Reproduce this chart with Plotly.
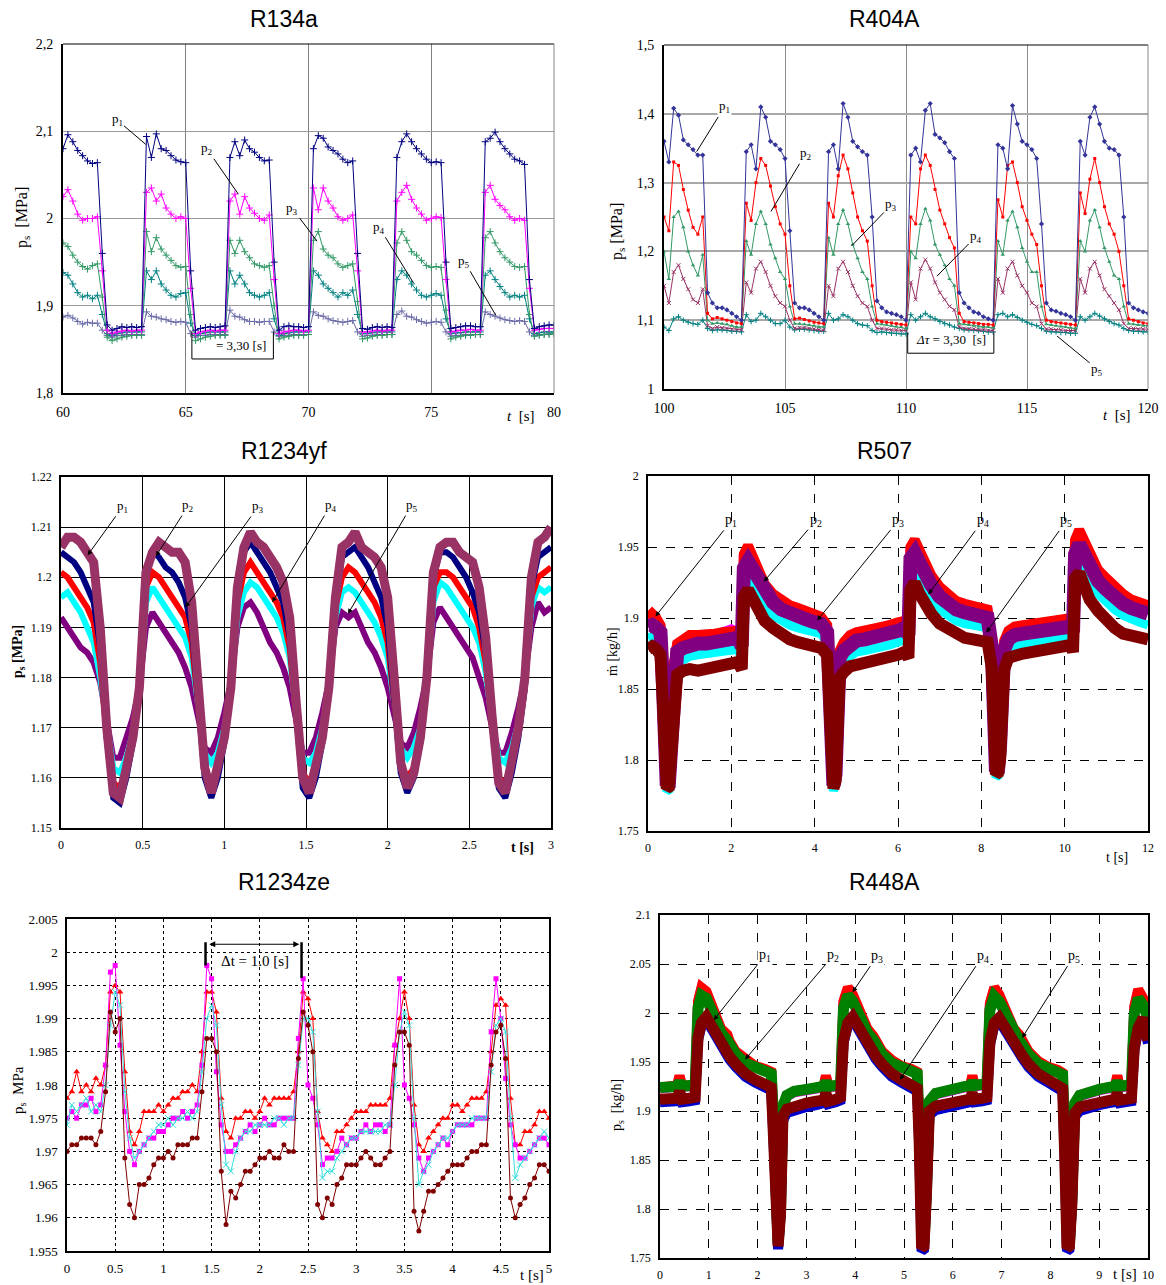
import plotly.graph_objects as go

W, H = 1166, 1285
SERIF = "Liberation Serif, Times New Roman, serif"
SANS = "Liberation Sans, Arial, sans-serif"

# ====================== DATA ======================
# ---- R134a (t = 60 ... 80 s, sampled every 0.2 s) ----
r134a_t_start, r134a_t_step, r134a_n = 60.0, 0.2, 101
r134a_t = [round(r134a_t_start + r134a_t_step * k, 2) for k in range(r134a_n)]
r134a_p1 = [2.080, 2.096, 2.088, 2.078, 2.072, 2.066, 2.063, 2.064, 1.960, 1.878,
            1.872, 1.874, 1.876, 1.875, 1.876, 1.875, 1.876, 2.094, 2.070, 2.097,
            2.080, 2.078, 2.072, 2.067, 2.065, 2.064, 1.940, 1.872, 1.874, 1.875,
            1.876, 1.875, 1.876, 1.877, 2.070, 2.088, 2.072, 2.090, 2.080, 2.076,
            2.070, 2.066, 2.067, 1.950, 1.872, 1.876, 1.877, 1.876, 1.876, 1.875,
            1.876, 2.080, 2.095, 2.092, 2.082, 2.078, 2.074, 2.068, 2.064, 2.066,
            1.960, 1.874, 1.873, 1.875, 1.876, 1.875, 1.876, 1.875, 2.070, 2.088,
            2.097, 2.088, 2.080, 2.074, 2.068, 2.064, 2.065, 2.064, 1.950, 1.874,
            1.875, 1.876, 1.877, 1.877, 1.876, 1.876, 2.088, 2.092, 2.099, 2.088,
            2.080, 2.074, 2.068, 2.066, 2.062, 1.930, 1.874, 1.876, 1.877, 1.878,
            1.878]
r134a_p2 = [2.025, 2.033, 2.020, 2.005, 1.998, 2.000, 2.000, 2.002, 1.940, 1.872,
            1.868, 1.870, 1.871, 1.872, 1.871, 1.872, 1.872, 2.030, 2.035, 2.020,
            2.028, 2.012, 2.005, 2.000, 2.002, 2.000, 1.920, 1.868, 1.870, 1.871,
            1.872, 1.871, 1.872, 1.872, 2.020, 2.028, 2.005, 2.025, 2.012, 2.006,
            2.000, 1.998, 2.004, 1.930, 1.868, 1.870, 1.871, 1.872, 1.872, 1.871,
            1.872, 2.035, 2.010, 2.035, 2.020, 2.012, 2.002, 1.998, 2.000, 2.004,
            1.940, 1.870, 1.870, 1.871, 1.872, 1.871, 1.872, 1.872, 2.020, 2.030,
            2.038, 2.022, 2.012, 2.005, 1.998, 2.000, 2.002, 2.001, 1.930, 1.870,
            1.871, 1.872, 1.872, 1.873, 1.872, 1.872, 2.030, 2.038, 2.022, 2.015,
            2.010, 2.002, 1.998, 2.000, 1.998, 1.920, 1.872, 1.873, 1.874, 1.874,
            1.874]
r134a_p3 = [1.972, 1.968, 1.958, 1.950, 1.945, 1.942, 1.946, 1.948, 1.910, 1.864,
            1.860, 1.862, 1.864, 1.865, 1.866, 1.866, 1.866, 1.985, 1.962, 1.978,
            1.965, 1.958, 1.952, 1.946, 1.944, 1.945, 1.890, 1.860, 1.862, 1.864,
            1.865, 1.866, 1.866, 1.866, 1.975, 1.960, 1.975, 1.962, 1.955, 1.948,
            1.946, 1.944, 1.946, 1.900, 1.862, 1.864, 1.865, 1.866, 1.866, 1.866,
            1.867, 1.975, 1.985, 1.965, 1.958, 1.955, 1.948, 1.944, 1.946, 1.948,
            1.905, 1.862, 1.863, 1.865, 1.866, 1.866, 1.867, 1.867, 1.972, 1.985,
            1.975, 1.962, 1.958, 1.952, 1.946, 1.944, 1.945, 1.944, 1.895, 1.862,
            1.864, 1.865, 1.866, 1.866, 1.867, 1.867, 1.978, 1.985, 1.972, 1.962,
            1.955, 1.950, 1.945, 1.944, 1.945, 1.890, 1.865, 1.866, 1.867, 1.867,
            1.868]
r134a_p4 = [1.938, 1.935, 1.925, 1.915, 1.910, 1.912, 1.908, 1.912, 1.890, 1.868,
            1.866, 1.868, 1.869, 1.870, 1.870, 1.870, 1.870, 1.940, 1.930, 1.940,
            1.925, 1.918, 1.912, 1.910, 1.914, 1.915, 1.880, 1.866, 1.868, 1.869,
            1.870, 1.870, 1.870, 1.870, 1.940, 1.925, 1.935, 1.925, 1.915, 1.912,
            1.910, 1.912, 1.915, 1.885, 1.866, 1.868, 1.869, 1.870, 1.870, 1.870,
            1.870, 1.940, 1.935, 1.925, 1.920, 1.915, 1.910, 1.915, 1.912, 1.918,
            1.890, 1.868, 1.868, 1.869, 1.870, 1.870, 1.870, 1.870, 1.930, 1.940,
            1.935, 1.925, 1.918, 1.912, 1.910, 1.912, 1.914, 1.912, 1.885, 1.868,
            1.869, 1.869, 1.870, 1.870, 1.870, 1.870, 1.935, 1.940, 1.930, 1.922,
            1.915, 1.910, 1.912, 1.910, 1.912, 1.885, 1.868, 1.869, 1.870, 1.870,
            1.870]
r134a_p5 = [1.887, 1.889, 1.886, 1.882, 1.879, 1.881, 1.880, 1.880, 1.872, 1.866,
            1.864, 1.866, 1.866, 1.867, 1.867, 1.867, 1.867, 1.893, 1.888, 1.887,
            1.885, 1.884, 1.882, 1.881, 1.882, 1.881, 1.868, 1.864, 1.866, 1.866,
            1.867, 1.867, 1.867, 1.867, 1.895, 1.888, 1.887, 1.884, 1.882, 1.882,
            1.881, 1.882, 1.882, 1.870, 1.865, 1.866, 1.866, 1.867, 1.867, 1.867,
            1.867, 1.893, 1.889, 1.888, 1.885, 1.883, 1.882, 1.881, 1.882, 1.883,
            1.870, 1.865, 1.866, 1.866, 1.867, 1.867, 1.867, 1.867, 1.890, 1.894,
            1.888, 1.887, 1.884, 1.882, 1.880, 1.881, 1.882, 1.881, 1.870, 1.865,
            1.866, 1.866, 1.867, 1.867, 1.867, 1.867, 1.893, 1.890, 1.888, 1.886,
            1.884, 1.883, 1.882, 1.883, 1.882, 1.870, 1.866, 1.867, 1.867, 1.868,
            1.868]

# ---- R404A (t = 100 ... 120 s, every 0.2 s) ----
r404a_t_start, r404a_t_step, r404a_n = 100.0, 0.2, 101
r404a_t = [round(r404a_t_start + r404a_t_step * k, 2) for k in range(r404a_n)]
r404a_p1 = [1.360, 1.330, 1.408, 1.398, 1.362, 1.355, 1.348, 1.340, 1.340, 1.140,
            1.125, 1.118, 1.118, 1.115, 1.110, 1.105, 1.100, 1.345, 1.355, 1.320,
            1.410, 1.395, 1.360, 1.355, 1.348, 1.335, 1.230, 1.125, 1.118, 1.118,
            1.115, 1.110, 1.105, 1.100, 1.345, 1.355, 1.320, 1.415, 1.395, 1.360,
            1.352, 1.345, 1.340, 1.250, 1.128, 1.118, 1.112, 1.110, 1.108, 1.105,
            1.100, 1.340, 1.350, 1.330, 1.405, 1.415, 1.370, 1.365, 1.358, 1.345,
            1.335, 1.140, 1.125, 1.118, 1.112, 1.110, 1.105, 1.102, 1.100, 1.355,
            1.350, 1.320, 1.412, 1.385, 1.360, 1.355, 1.348, 1.335, 1.240, 1.125,
            1.115, 1.113, 1.110, 1.108, 1.105, 1.100, 1.360, 1.340, 1.395, 1.410,
            1.385, 1.360, 1.350, 1.348, 1.340, 1.250, 1.125, 1.118, 1.115, 1.112,
            1.110]
r404a_p2 = [1.250, 1.230, 1.330, 1.325, 1.290, 1.260, 1.235, 1.225, 1.250, 1.110,
            1.102, 1.104, 1.102, 1.100, 1.098, 1.096, 1.095, 1.270, 1.245, 1.300,
            1.335, 1.325, 1.295, 1.265, 1.240, 1.225, 1.150, 1.102, 1.103, 1.101,
            1.099, 1.097, 1.096, 1.095, 1.270, 1.250, 1.310, 1.340, 1.320, 1.285,
            1.250, 1.230, 1.215, 1.150, 1.100, 1.098, 1.097, 1.096, 1.095, 1.094,
            1.093, 1.250, 1.240, 1.320, 1.340, 1.325, 1.290, 1.260, 1.240, 1.220,
            1.205, 1.110, 1.098, 1.097, 1.096, 1.095, 1.094, 1.094, 1.093, 1.275,
            1.250, 1.325, 1.330, 1.300, 1.265, 1.245, 1.225, 1.210, 1.150, 1.100,
            1.098, 1.097, 1.096, 1.095, 1.094, 1.093, 1.285, 1.255, 1.305, 1.335,
            1.300, 1.265, 1.240, 1.225, 1.200, 1.150, 1.102, 1.100, 1.098, 1.096,
            1.095]
r404a_p3 = [1.200, 1.160, 1.250, 1.258, 1.235, 1.200, 1.180, 1.165, 1.195, 1.100,
            1.095, 1.096, 1.095, 1.094, 1.092, 1.090, 1.090, 1.215, 1.195, 1.240,
            1.258, 1.240, 1.210, 1.190, 1.170, 1.160, 1.120, 1.095, 1.095, 1.094,
            1.093, 1.092, 1.090, 1.090, 1.220, 1.195, 1.240, 1.260, 1.240, 1.210,
            1.190, 1.170, 1.160, 1.120, 1.095, 1.094, 1.093, 1.092, 1.091, 1.090,
            1.088, 1.200, 1.190, 1.240, 1.262, 1.245, 1.210, 1.195, 1.180, 1.160,
            1.150, 1.095, 1.094, 1.093, 1.092, 1.091, 1.090, 1.090, 1.089, 1.215,
            1.195, 1.245, 1.258, 1.235, 1.205, 1.185, 1.170, 1.170, 1.120, 1.094,
            1.093, 1.092, 1.091, 1.090, 1.089, 1.088, 1.215, 1.200, 1.245, 1.260,
            1.235, 1.205, 1.185, 1.165, 1.160, 1.120, 1.095, 1.094, 1.093, 1.092,
            1.092]
r404a_p4 = [1.150, 1.125, 1.170, 1.180, 1.160, 1.145, 1.130, 1.125, 1.145, 1.092,
            1.088, 1.090, 1.089, 1.088, 1.087, 1.086, 1.086, 1.155, 1.140, 1.175,
            1.185, 1.170, 1.150, 1.135, 1.125, 1.120, 1.100, 1.088, 1.089, 1.089,
            1.088, 1.087, 1.086, 1.085, 1.150, 1.135, 1.175, 1.185, 1.170, 1.150,
            1.135, 1.125, 1.120, 1.100, 1.088, 1.088, 1.087, 1.086, 1.086, 1.085,
            1.085, 1.155, 1.130, 1.175, 1.188, 1.175, 1.155, 1.140, 1.130, 1.120,
            1.115, 1.090, 1.088, 1.087, 1.087, 1.086, 1.086, 1.085, 1.085, 1.160,
            1.140, 1.175, 1.185, 1.165, 1.150, 1.140, 1.125, 1.120, 1.095, 1.087,
            1.087, 1.086, 1.086, 1.085, 1.085, 1.085, 1.160, 1.140, 1.175, 1.185,
            1.165, 1.145, 1.135, 1.125, 1.115, 1.095, 1.088, 1.088, 1.087, 1.087,
            1.087]
r404a_p5 = [1.090, 1.085, 1.102, 1.105, 1.100, 1.097, 1.095, 1.094, 1.100, 1.088,
            1.085, 1.086, 1.086, 1.085, 1.084, 1.084, 1.083, 1.108, 1.098, 1.100,
            1.110, 1.105, 1.100, 1.095, 1.095, 1.100, 1.090, 1.086, 1.087, 1.087,
            1.086, 1.085, 1.084, 1.084, 1.110, 1.100, 1.102, 1.108, 1.105, 1.100,
            1.095, 1.093, 1.092, 1.085, 1.082, 1.083, 1.082, 1.081, 1.081, 1.080,
            1.080, 1.108, 1.100, 1.105, 1.110, 1.105, 1.102, 1.098, 1.095, 1.093,
            1.090, 1.088, 1.086, 1.086, 1.085, 1.085, 1.084, 1.083, 1.083, 1.108,
            1.110, 1.105, 1.108, 1.104, 1.100, 1.097, 1.094, 1.092, 1.088, 1.084,
            1.083, 1.083, 1.082, 1.082, 1.081, 1.081, 1.105, 1.100, 1.105, 1.110,
            1.106, 1.102, 1.098, 1.095, 1.093, 1.088, 1.085, 1.084, 1.084, 1.083,
            1.083]

# ---- R1234yf (t = 0 ... 3 s, every 0.04 s) ----
r1234yf_t_start, r1234yf_t_step, r1234yf_n = 0.0, 0.04, 76
r1234yf_t = [round(r1234yf_t_start + r1234yf_t_step * k, 3) for k in range(r1234yf_n)]
r1234yf_p1 = [1.205, 1.204, 1.203, 1.201, 1.198, 1.195, 1.186, 1.168, 1.156, 1.155,
              1.160, 1.167, 1.177, 1.200, 1.205, 1.204, 1.202, 1.201, 1.199, 1.196,
              1.190, 1.175, 1.160, 1.156, 1.160, 1.167, 1.177, 1.197, 1.205, 1.207,
              1.205, 1.203, 1.201, 1.198, 1.195, 1.188, 1.172, 1.158, 1.156, 1.160,
              1.167, 1.177, 1.195, 1.204, 1.205, 1.206, 1.204, 1.202, 1.199, 1.196,
              1.190, 1.176, 1.161, 1.157, 1.160, 1.167, 1.179, 1.200, 1.205, 1.205,
              1.204, 1.202, 1.200, 1.197, 1.193, 1.185, 1.170, 1.158, 1.156, 1.161,
              1.168, 1.178, 1.198, 1.204, 1.205, 1.206]
r1234yf_p2 = [1.201, 1.200, 1.198, 1.196, 1.194, 1.191, 1.183, 1.168, 1.159, 1.158,
              1.162, 1.168, 1.177, 1.198, 1.201, 1.200, 1.198, 1.196, 1.194, 1.192,
              1.187, 1.174, 1.162, 1.159, 1.162, 1.168, 1.177, 1.195, 1.201, 1.203,
              1.201, 1.199, 1.197, 1.195, 1.192, 1.186, 1.172, 1.161, 1.159, 1.162,
              1.168, 1.177, 1.194, 1.200, 1.202, 1.201, 1.199, 1.197, 1.195, 1.192,
              1.187, 1.175, 1.163, 1.160, 1.162, 1.168, 1.179, 1.198, 1.201, 1.201,
              1.200, 1.198, 1.196, 1.194, 1.190, 1.183, 1.170, 1.160, 1.159, 1.163,
              1.169, 1.178, 1.196, 1.200, 1.201, 1.202]
r1234yf_p3 = [1.196, 1.197, 1.195, 1.193, 1.190, 1.187, 1.180, 1.170, 1.162, 1.161,
              1.164, 1.169, 1.177, 1.195, 1.198, 1.196, 1.194, 1.192, 1.190, 1.188,
              1.184, 1.174, 1.165, 1.163, 1.165, 1.170, 1.178, 1.192, 1.197, 1.199,
              1.198, 1.196, 1.194, 1.192, 1.189, 1.184, 1.173, 1.164, 1.163, 1.165,
              1.170, 1.178, 1.192, 1.197, 1.198, 1.197, 1.195, 1.193, 1.191, 1.188,
              1.184, 1.175, 1.166, 1.164, 1.166, 1.170, 1.179, 1.195, 1.199, 1.198,
              1.196, 1.194, 1.192, 1.190, 1.187, 1.181, 1.171, 1.164, 1.163, 1.166,
              1.171, 1.179, 1.194, 1.198, 1.197, 1.198]
r1234yf_p4 = [1.192, 1.190, 1.188, 1.186, 1.185, 1.183, 1.179, 1.172, 1.164, 1.164,
              1.168, 1.172, 1.178, 1.190, 1.193, 1.191, 1.189, 1.187, 1.185, 1.182,
              1.178, 1.172, 1.166, 1.165, 1.168, 1.173, 1.179, 1.190, 1.194, 1.195,
              1.193, 1.190, 1.187, 1.185, 1.182, 1.178, 1.171, 1.165, 1.165, 1.168,
              1.173, 1.179, 1.190, 1.193, 1.192, 1.193, 1.190, 1.187, 1.185, 1.182,
              1.178, 1.172, 1.167, 1.166, 1.169, 1.174, 1.180, 1.191, 1.194, 1.192,
              1.190, 1.188, 1.186, 1.184, 1.180, 1.176, 1.170, 1.165, 1.165, 1.169,
              1.174, 1.180, 1.190, 1.195, 1.193, 1.194]
r1234yf_p5 = [1.206, 1.208, 1.208, 1.207, 1.205, 1.203, 1.190, 1.170, 1.157, 1.156,
              1.162, 1.168, 1.178, 1.201, 1.205, 1.207, 1.206, 1.205, 1.205, 1.203,
              1.195, 1.178, 1.162, 1.157, 1.162, 1.168, 1.178, 1.198, 1.206, 1.209,
              1.207, 1.206, 1.204, 1.202, 1.199, 1.192, 1.175, 1.160, 1.157, 1.162,
              1.168, 1.178, 1.196, 1.206, 1.207, 1.209, 1.206, 1.205, 1.204, 1.202,
              1.196, 1.180, 1.163, 1.158, 1.161, 1.168, 1.180, 1.201, 1.206, 1.207,
              1.207, 1.205, 1.204, 1.203, 1.198, 1.188, 1.172, 1.159, 1.157, 1.163,
              1.170, 1.180, 1.200, 1.207, 1.208, 1.210]

# ---- R507 (t = 0 ... 12 s) ----
r507_t = [0.0, 0.1, 0.2, 0.3, 0.35, 0.4, 0.45, 0.5, 0.55, 0.6,
          0.7, 0.85, 1.0, 1.2, 1.4, 1.6, 1.8, 2.0, 2.15, 2.25,
          2.3, 2.4, 2.5, 2.65, 2.8, 3.0, 3.2, 3.4, 3.6, 3.8,
          4.0, 4.15, 4.3, 4.35, 4.4, 4.45, 4.5, 4.55, 4.6, 4.7,
          4.85, 5.0, 5.2, 5.4, 5.6, 5.8, 6.0, 6.15, 6.25, 6.3,
          6.4, 6.5, 6.65, 6.8, 7.0, 7.2, 7.4, 7.6, 7.8, 8.0,
          8.15, 8.25, 8.3, 8.35, 8.4, 8.45, 8.5, 8.55, 8.65, 8.8,
          9.0, 9.2, 9.4, 9.6, 9.8, 10.0, 10.15, 10.2, 10.25, 10.35,
          10.45, 10.6, 10.8, 11.0, 11.2, 11.4, 11.6, 11.8, 12.0]
r507_p1 = [1.900, 1.903, 1.900, 1.895, 1.862, 1.802, 1.784, 1.785, 1.818, 1.864,
           1.882, 1.886, 1.888, 1.888, 1.888, 1.889, 1.890, 1.891, 1.891, 1.884,
           1.945, 1.951, 1.943, 1.932, 1.924, 1.917, 1.912, 1.909, 1.907, 1.905,
           1.903, 1.901, 1.895, 1.853, 1.792, 1.784, 1.792, 1.843, 1.877, 1.883,
           1.888, 1.890, 1.891, 1.892, 1.894, 1.895, 1.897, 1.898, 1.893, 1.950,
           1.955, 1.948, 1.938, 1.930, 1.922, 1.916, 1.912, 1.910, 1.908, 1.907,
           1.906, 1.884, 1.833, 1.794, 1.795, 1.812, 1.853, 1.884, 1.891, 1.894,
           1.895, 1.896, 1.897, 1.898, 1.899, 1.899, 1.900, 1.895, 1.955, 1.962,
           1.955, 1.944, 1.934, 1.928, 1.922, 1.917, 1.913, 1.911, 1.909]
r507_p2 = [1.899, 1.902, 1.899, 1.894, 1.861, 1.801, 1.783, 1.784, 1.817, 1.863,
           1.881, 1.885, 1.887, 1.887, 1.887, 1.888, 1.890, 1.892, 1.890, 1.883,
           1.944, 1.950, 1.942, 1.931, 1.923, 1.916, 1.911, 1.908, 1.906, 1.904,
           1.902, 1.900, 1.894, 1.852, 1.791, 1.783, 1.791, 1.842, 1.876, 1.882,
           1.887, 1.889, 1.890, 1.891, 1.893, 1.895, 1.896, 1.897, 1.892, 1.949,
           1.954, 1.947, 1.937, 1.929, 1.921, 1.915, 1.911, 1.909, 1.907, 1.906,
           1.905, 1.883, 1.832, 1.793, 1.794, 1.811, 1.852, 1.883, 1.890, 1.893,
           1.894, 1.895, 1.896, 1.897, 1.898, 1.898, 1.899, 1.894, 1.954, 1.961,
           1.954, 1.943, 1.933, 1.927, 1.921, 1.916, 1.912, 1.910, 1.908]
r507_p3 = [1.886, 1.887, 1.885, 1.882, 1.852, 1.795, 1.778, 1.779, 1.810, 1.852,
           1.868, 1.871, 1.873, 1.874, 1.875, 1.876, 1.877, 1.878, 1.878, 1.872,
           1.925, 1.928, 1.924, 1.915, 1.908, 1.902, 1.898, 1.895, 1.893, 1.891,
           1.890, 1.889, 1.883, 1.845, 1.786, 1.778, 1.786, 1.835, 1.865, 1.870,
           1.874, 1.876, 1.877, 1.878, 1.880, 1.881, 1.883, 1.885, 1.880, 1.930,
           1.934, 1.928, 1.920, 1.913, 1.906, 1.902, 1.898, 1.896, 1.895, 1.894,
           1.893, 1.873, 1.825, 1.788, 1.789, 1.805, 1.845, 1.870, 1.877, 1.880,
           1.881, 1.882, 1.883, 1.884, 1.885, 1.886, 1.887, 1.882, 1.935, 1.940,
           1.934, 1.925, 1.917, 1.911, 1.906, 1.902, 1.899, 1.897, 1.895]
r507_p4 = [1.894, 1.895, 1.893, 1.890, 1.860, 1.800, 1.782, 1.783, 1.815, 1.860,
           1.876, 1.879, 1.881, 1.882, 1.882, 1.883, 1.885, 1.886, 1.886, 1.880,
           1.935, 1.940, 1.935, 1.925, 1.918, 1.911, 1.906, 1.903, 1.901, 1.899,
           1.897, 1.896, 1.890, 1.850, 1.790, 1.782, 1.790, 1.840, 1.872, 1.877,
           1.882, 1.884, 1.885, 1.886, 1.888, 1.889, 1.891, 1.893, 1.888, 1.942,
           1.946, 1.940, 1.930, 1.923, 1.915, 1.910, 1.906, 1.904, 1.902, 1.901,
           1.900, 1.880, 1.830, 1.792, 1.793, 1.810, 1.850, 1.878, 1.885, 1.888,
           1.889, 1.890, 1.891, 1.891, 1.892, 1.893, 1.894, 1.890, 1.945, 1.952,
           1.945, 1.935, 1.926, 1.920, 1.914, 1.910, 1.907, 1.905, 1.903]
r507_p5 = [1.878, 1.880, 1.878, 1.874, 1.845, 1.790, 1.780, 1.781, 1.805, 1.845,
           1.860, 1.863, 1.864, 1.863, 1.864, 1.866, 1.868, 1.869, 1.869, 1.864,
           1.915, 1.920, 1.915, 1.906, 1.898, 1.893, 1.888, 1.885, 1.883, 1.881,
           1.880, 1.879, 1.874, 1.838, 1.785, 1.780, 1.785, 1.830, 1.858, 1.862,
           1.866, 1.867, 1.868, 1.869, 1.871, 1.872, 1.874, 1.876, 1.872, 1.920,
           1.925, 1.918, 1.910, 1.903, 1.896, 1.892, 1.888, 1.886, 1.885, 1.884,
           1.883, 1.865, 1.820, 1.790, 1.791, 1.800, 1.838, 1.864, 1.872, 1.874,
           1.875, 1.876, 1.877, 1.878, 1.879, 1.880, 1.881, 1.876, 1.928, 1.932,
           1.924, 1.913, 1.905, 1.898, 1.893, 1.889, 1.887, 1.886, 1.885]

# ---- R1234ze (t = 0 ... 5 s, every 0.05 s) ----
r1234ze_t_start, r1234ze_t_step, r1234ze_n = 0.0, 0.05, 101
r1234ze_t = [round(r1234ze_t_start + r1234ze_t_step * k, 3) for k in range(r1234ze_n)]
r1234ze_p1 = [1.978, 1.979, 1.982, 1.979, 1.980, 1.979, 1.981, 1.980, 1.983, 1.994,
              1.995, 1.994, 1.982, 1.973, 1.971, 1.973, 1.976, 1.976, 1.976, 1.977,
              1.976, 1.977, 1.978, 1.978, 1.979, 1.979, 1.980, 1.979, 1.985, 1.994,
              1.994, 1.991, 1.978, 1.973, 1.972, 1.975, 1.975, 1.976, 1.976, 1.975,
              1.976, 1.978, 1.977, 1.978, 1.978, 1.978, 1.978, 1.979, 1.985, 1.994,
              1.993, 1.990, 1.976, 1.972, 1.971, 1.970, 1.973, 1.973, 1.974, 1.975,
              1.976, 1.976, 1.976, 1.977, 1.977, 1.977, 1.977, 1.978, 1.986, 1.990,
              1.994, 1.990, 1.977, 1.971, 1.970, 1.972, 1.973, 1.974, 1.975, 1.975,
              1.977, 1.977, 1.976, 1.977, 1.978, 1.978, 1.978, 1.979, 1.985, 1.992,
              1.993, 1.992, 1.978, 1.971, 1.971, 1.973, 1.973, 1.974, 1.976, 1.976,
              1.975]
r1234ze_p2 = [1.975, 1.976, 1.975, 1.977, 1.977, 1.978, 1.976, 1.977, 1.983, 1.997,
              1.998, 1.986, 1.976, 1.970, 1.968, 1.970, 1.971, 1.972, 1.972, 1.973,
              1.973, 1.974, 1.975, 1.975, 1.976, 1.975, 1.976, 1.977, 1.983, 1.998,
              1.996, 1.982, 1.974, 1.970, 1.970, 1.971, 1.972, 1.973, 1.974, 1.973,
              1.974, 1.975, 1.974, 1.974, 1.975, 1.975, 1.975, 1.975, 1.987, 1.996,
              1.980, 1.978, 1.974, 1.968, 1.969, 1.969, 1.970, 1.972, 1.971, 1.972,
              1.972, 1.973, 1.974, 1.973, 1.974, 1.974, 1.973, 1.974, 1.986, 1.996,
              1.980, 1.978, 1.974, 1.969, 1.967, 1.969, 1.970, 1.971, 1.972, 1.971,
              1.973, 1.974, 1.974, 1.974, 1.974, 1.975, 1.975, 1.975, 1.988, 1.996,
              1.990, 1.981, 1.974, 1.971, 1.969, 1.969, 1.970, 1.971, 1.972, 1.972,
              1.971]
r1234ze_p3 = [1.974, 1.977, 1.976, 1.977, 1.978, 1.976, 1.977, 1.976, 1.980, 1.989,
              1.994, 1.992, 1.979, 1.972, 1.969, 1.970, 1.971, 1.972, 1.973, 1.974,
              1.974, 1.975, 1.974, 1.975, 1.975, 1.976, 1.975, 1.976, 1.982, 1.990,
              1.992, 1.989, 1.977, 1.968, 1.967, 1.970, 1.972, 1.973, 1.973, 1.974,
              1.974, 1.974, 1.974, 1.975, 1.975, 1.974, 1.975, 1.975, 1.983, 1.990,
              1.990, 1.988, 1.976, 1.966, 1.967, 1.967, 1.969, 1.970, 1.971, 1.972,
              1.972, 1.973, 1.973, 1.973, 1.973, 1.973, 1.974, 1.974, 1.980, 1.988,
              1.991, 1.989, 1.975, 1.965, 1.967, 1.968, 1.970, 1.971, 1.972, 1.972,
              1.973, 1.974, 1.974, 1.974, 1.975, 1.975, 1.975, 1.975, 1.982, 1.989,
              1.990, 1.988, 1.975, 1.966, 1.968, 1.969, 1.970, 1.971, 1.972, 1.973,
              1.972]
r1234ze_p4 = [1.970, 1.971, 1.971, 1.972, 1.972, 1.972, 1.971, 1.973, 1.979, 1.991,
              1.988, 1.990, 1.969, 1.962, 1.960, 1.965, 1.965, 1.966, 1.968, 1.969,
              1.969, 1.970, 1.969, 1.971, 1.971, 1.971, 1.972, 1.972, 1.979, 1.987,
              1.987, 1.985, 1.967, 1.959, 1.964, 1.963, 1.965, 1.967, 1.967, 1.968,
              1.969, 1.969, 1.970, 1.969, 1.969, 1.971, 1.970, 1.970, 1.984, 1.991,
              1.989, 1.985, 1.962, 1.960, 1.963, 1.962, 1.965, 1.966, 1.968, 1.968,
              1.968, 1.969, 1.970, 1.969, 1.968, 1.968, 1.969, 1.970, 1.983, 1.988,
              1.988, 1.986, 1.961, 1.958, 1.961, 1.964, 1.964, 1.965, 1.966, 1.967,
              1.968, 1.968, 1.968, 1.969, 1.970, 1.970, 1.971, 1.971, 1.983, 1.988,
              1.989, 1.984, 1.963, 1.960, 1.962, 1.963, 1.965, 1.966, 1.968, 1.968,
              1.967]

# ---- R448A (t = 0 ... 10 s) ----
r448a_t = [0.0, 0.2, 0.35, 0.4, 0.45, 0.6, 0.72, 0.78, 0.85, 0.95,
           1.1, 1.25, 1.38, 1.42, 1.55, 1.75, 1.95, 2.15, 2.28, 2.32,
           2.37, 2.42, 2.47, 2.52, 2.6, 2.75, 3.0, 3.2, 3.35, 3.4,
           3.45, 3.6, 3.7, 3.76, 3.85, 3.95, 4.1, 4.25, 4.38, 4.42,
           4.55, 4.75, 4.95, 5.15, 5.27, 5.31, 5.36, 5.41, 5.46, 5.52,
           5.65, 5.85, 6.05, 6.25, 6.35, 6.4, 6.45, 6.6, 6.7, 6.76,
           6.85, 6.95, 7.1, 7.25, 7.36, 7.42, 7.55, 7.75, 7.95, 8.15,
           8.25, 8.29, 8.34, 8.39, 8.44, 8.5, 8.6, 8.8, 9.0, 9.2,
           9.32, 9.37, 9.42, 9.55, 9.66, 9.72, 9.8, 9.9, 10.0]
r448a_p1 = [1.909, 1.909, 1.910, 1.917, 1.909, 1.910, 1.911, 1.972, 1.987, 1.993,
            1.979, 1.965, 1.957, 1.953, 1.945, 1.935, 1.929, 1.925, 1.921, 1.877,
            1.762, 1.759, 1.792, 1.890, 1.898, 1.901, 1.904, 1.906, 1.908, 1.915,
            1.907, 1.909, 1.911, 1.969, 1.987, 1.993, 1.979, 1.965, 1.957, 1.953,
            1.945, 1.935, 1.929, 1.925, 1.920, 1.867, 1.757, 1.759, 1.812, 1.896,
            1.901, 1.904, 1.906, 1.908, 1.909, 1.915, 1.909, 1.910, 1.911, 1.967,
            1.987, 1.992, 1.979, 1.965, 1.957, 1.954, 1.945, 1.935, 1.929, 1.924,
            1.920, 1.857, 1.757, 1.759, 1.802, 1.894, 1.900, 1.904, 1.906, 1.908,
            1.909, 1.915, 1.908, 1.909, 1.910, 1.962, 1.982, 1.992, 1.969]
r448a_p2 = [1.924, 1.925, 1.926, 1.936, 1.926, 1.926, 1.926, 2.012, 2.026, 2.022,
            2.000, 1.984, 1.978, 1.972, 1.961, 1.952, 1.946, 1.943, 1.940, 1.900,
            1.770, 1.765, 1.800, 1.905, 1.916, 1.920, 1.922, 1.924, 1.925, 1.936,
            1.925, 1.926, 1.927, 2.012, 2.026, 2.019, 2.000, 1.984, 1.976, 1.972,
            1.961, 1.952, 1.946, 1.943, 1.940, 1.890, 1.765, 1.765, 1.820, 1.910,
            1.918, 1.921, 1.923, 1.925, 1.925, 1.936, 1.926, 1.927, 1.928, 2.010,
            2.026, 2.019, 2.000, 1.984, 1.978, 1.972, 1.961, 1.951, 1.945, 1.942,
            1.939, 1.880, 1.765, 1.765, 1.810, 1.908, 1.916, 1.920, 1.922, 1.924,
            1.925, 1.936, 1.925, 1.926, 1.927, 2.007, 2.024, 2.015, 1.999]
r448a_p3 = [1.923, 1.924, 1.925, 1.935, 1.925, 1.925, 1.925, 2.011, 2.025, 2.021,
            1.999, 1.983, 1.977, 1.971, 1.960, 1.951, 1.945, 1.942, 1.939, 1.898,
            1.769, 1.764, 1.799, 1.904, 1.915, 1.919, 1.921, 1.923, 1.924, 1.935,
            1.924, 1.925, 1.926, 2.011, 2.025, 2.018, 1.999, 1.983, 1.975, 1.971,
            1.960, 1.951, 1.945, 1.942, 1.939, 1.889, 1.764, 1.764, 1.819, 1.909,
            1.917, 1.920, 1.922, 1.924, 1.924, 1.935, 1.925, 1.926, 1.927, 2.009,
            2.025, 2.018, 1.999, 1.983, 1.977, 1.971, 1.960, 1.950, 1.944, 1.941,
            1.938, 1.879, 1.764, 1.764, 1.809, 1.907, 1.915, 1.919, 1.921, 1.923,
            1.924, 1.935, 1.924, 1.925, 1.926, 2.006, 2.023, 2.014, 1.998]
r448a_p4 = [1.924, 1.925, 1.925, 1.930, 1.925, 1.926, 1.926, 2.005, 2.018, 2.015,
            1.995, 1.980, 1.972, 1.968, 1.958, 1.949, 1.944, 1.941, 1.938, 1.900,
            1.770, 1.765, 1.800, 1.905, 1.916, 1.920, 1.922, 1.924, 1.925, 1.930,
            1.925, 1.926, 1.927, 2.005, 2.018, 2.012, 1.995, 1.980, 1.972, 1.968,
            1.958, 1.949, 1.944, 1.941, 1.938, 1.890, 1.765, 1.765, 1.820, 1.910,
            1.918, 1.921, 1.923, 1.925, 1.925, 1.930, 1.926, 1.927, 1.928, 2.003,
            2.017, 2.012, 1.995, 1.980, 1.972, 1.968, 1.958, 1.948, 1.943, 1.940,
            1.937, 1.880, 1.765, 1.765, 1.810, 1.908, 1.916, 1.920, 1.922, 1.924,
            1.925, 1.930, 1.925, 1.926, 1.927, 2.000, 2.015, 2.008, 1.995]
r448a_p5 = [1.912, 1.912, 1.913, 1.920, 1.912, 1.913, 1.914, 1.975, 1.990, 1.996,
            1.982, 1.968, 1.960, 1.956, 1.948, 1.938, 1.932, 1.928, 1.924, 1.880,
            1.765, 1.762, 1.795, 1.895, 1.902, 1.905, 1.908, 1.910, 1.911, 1.918,
            1.910, 1.912, 1.914, 1.972, 1.990, 1.996, 1.982, 1.968, 1.960, 1.956,
            1.948, 1.938, 1.932, 1.928, 1.923, 1.870, 1.760, 1.762, 1.815, 1.900,
            1.905, 1.908, 1.909, 1.911, 1.912, 1.918, 1.912, 1.913, 1.914, 1.970,
            1.990, 1.995, 1.982, 1.968, 1.960, 1.957, 1.948, 1.938, 1.932, 1.927,
            1.923, 1.860, 1.760, 1.762, 1.805, 1.898, 1.904, 1.907, 1.909, 1.911,
            1.912, 1.918, 1.911, 1.912, 1.913, 1.965, 1.985, 1.995, 1.972]

# ---- tick labels ----
r134a_xticks = [60, 65, 70, 75, 80]
r134a_xlabels = ["60", "65", "70", "75", "80"]
r134a_yticks = [1.8, 1.9, 2.0, 2.1, 2.2]
r134a_ylabels = ["1,8", "1,9", "2", "2,1", "2,2"]
r404a_xticks = [100, 105, 110, 115, 120]
r404a_xlabels = ["100", "105", "110", "115", "120"]
r404a_yticks = [1.0, 1.1, 1.2, 1.3, 1.4, 1.5]
r404a_ylabels = ["1", "1,1", "1,2", "1,3", "1,4", "1,5"]
r1234yf_xticks = [0, 0.5, 1, 1.5, 2, 2.5, 3]
r1234yf_xlabels = ["0", "0.5", "1", "1.5", "2", "2.5", "3"]
r1234yf_yticks = [1.15, 1.16, 1.17, 1.18, 1.19, 1.20, 1.21, 1.22]
r1234yf_ylabels = ["1.15", "1.16", "1.17", "1.18", "1.19", "1.2", "1.21", "1.22"]
r507_xticks = [0, 2, 4, 6, 8, 10, 12]
r507_xlabels = ["0", "2", "4", "6", "8", "10", "12"]
r507_yticks = [1.75, 1.80, 1.85, 1.90, 1.95, 2.0]
r507_ylabels = ["1.75", "1.8", "1.85", "1.9", "1.95", "2"]
r1234ze_xticks = [0, 0.5, 1, 1.5, 2, 2.5, 3, 3.5, 4, 4.5, 5]
r1234ze_xlabels = ["0", "0.5", "1", "1.5", "2", "2.5", "3", "3.5", "4", "4.5", "5"]
r1234ze_yticks = [1.955, 1.96, 1.965, 1.97, 1.975, 1.98, 1.985, 1.99, 1.995, 2.0, 2.005]
r1234ze_ylabels = ["1.955", "1.96", "1.965", "1.97", "1.975", "1.98", "1.985", "1.99",
                   "1.995", "2", "2.005"]
r448a_xticks = [0, 1, 2, 3, 4, 5, 6, 7, 8, 9, 10]
r448a_xlabels = ["0", "1", "2", "3", "4", "5", "6", "7", "8", "9", "10"]
r448a_yticks = [1.75, 1.8, 1.85, 1.9, 1.95, 2.0, 2.05, 2.1]
r448a_ylabels = ["1.75", "1.8", "1.85", "1.9", "1.95", "2", "2.05", "2.1"]


def check(name, t, *series):
    for s in series:
        if len(s) != len(t):
            raise ValueError(f"{name}: series length {len(s)} != {len(t)}")


check("R134a", r134a_t, r134a_p1, r134a_p2, r134a_p3, r134a_p4, r134a_p5)
check("R404A", r404a_t, r404a_p1, r404a_p2, r404a_p3, r404a_p4, r404a_p5)
check("R1234yf", r1234yf_t, r1234yf_p1, r1234yf_p2, r1234yf_p3, r1234yf_p4, r1234yf_p5)
check("R507", r507_t, r507_p1, r507_p2, r507_p3, r507_p4, r507_p5)
check("R1234ze", r1234ze_t, r1234ze_p1, r1234ze_p2, r1234ze_p3, r1234ze_p4)
check("R448A", r448a_t, r448a_p1, r448a_p2, r448a_p3, r448a_p4, r448a_p5)

# ====================== LAYOUT ======================
PANELS = {
    1: dict(px=(63, 554), py=(44, 393), xr=[60, 80], yr=[1.8, 2.2]),
    2: dict(px=(664, 1148), py=(45, 389), xr=[100, 120], yr=[1.0, 1.5]),
    3: dict(px=(61, 551), py=(477, 828), xr=[0, 3], yr=[1.15, 1.22]),
    4: dict(px=(648, 1148), py=(476, 831), xr=[0, 12], yr=[1.75, 2.0]),
    5: dict(px=(67, 549), py=(919, 1251), xr=[0, 5], yr=[1.955, 2.005]),
    6: dict(px=(660, 1148), py=(915, 1258), xr=[0, 10], yr=[1.75, 2.1]),
}


def names(i):
    s = "" if i == 1 else str(i)
    return "x" + s, "y" + s, "xaxis" + s, "yaxis" + s


fig = go.Figure()
annots = []
shapes = []
axes_layout = {}


def setup_axes(i, xtv, xtt, ytv, ytt, gcx, gwx, gcy, gwy, gdash, lw, mirror, fsize):
    p = PANELS[i]
    xn, yn, xk, yk = names(i)
    common = dict(showgrid=True, zeroline=False, showline=True, linecolor="black",
                  linewidth=lw, mirror=mirror, ticks="", griddash=gdash,
                  automargin=False, fixedrange=True,
                  tickfont=dict(family=SERIF, size=fsize, color="black"),
                  ticklabelstandoff=5)
    axes_layout[xk] = dict(domain=[p["px"][0] / W, p["px"][1] / W], range=p["xr"],
                           anchor=yn, tickmode="array", tickvals=xtv, ticktext=xtt,
                           gridcolor=gcx, gridwidth=gwx, **common)
    axes_layout[yk] = dict(domain=[1 - p["py"][1] / H, 1 - p["py"][0] / H], range=p["yr"],
                           anchor=xn, tickmode="array", tickvals=ytv, ticktext=ytt,
                           gridcolor=gcy, gridwidth=gwy, **common)
    if not mirror:
        shapes.append(dict(type="line", xref=xn + " domain", yref=yn + " domain",
                           x0=0, x1=1, y0=1, y1=1, line=dict(color="black", width=1)))
        shapes.append(dict(type="line", xref=xn + " domain", yref=yn + " domain",
                           x0=1, x1=1, y0=0, y1=1, line=dict(color="#888888", width=1)))


def add_series(i, t, y, color, width, mode="lines", symbol=None, msize=4, thin=False):
    xn, yn, _, _ = names(i)
    marker = None
    if "markers" in mode:
        if thin:
            marker = dict(symbol=symbol, size=msize, color=color,
                          line=dict(width=1, color=color))
        else:
            marker = dict(symbol=symbol, size=msize, color=color, line=dict(width=0))
    fig.add_trace(go.Scatter(x=t, y=y, xaxis=xn, yaxis=yn, mode=mode,
                             line=dict(color=color, width=width), marker=marker,
                             showlegend=False, hoverinfo="skip"))


def label(i, x, y, text, size=13, bg=None):
    xn, yn, _, _ = names(i)
    d = dict(x=x, y=y, xref=xn, yref=yn, text=text, showarrow=False,
             font=dict(family=SERIF, size=size, color="black"))
    if bg:
        d["bgcolor"] = bg
    annots.append(d)


def pointer(i, lx, ly, hx, hy, text, size=13, head=2, bg=None):
    """Label text at (lx, ly) with a leader line/arrow to (hx, hy)."""
    xn, yn, _, _ = names(i)
    d = dict(x=hx, y=hy, ax=lx, ay=ly, xref=xn, yref=yn, axref=xn, ayref=yn,
             text=text, showarrow=True, arrowhead=head, arrowsize=1, arrowwidth=1,
             arrowcolor="black", standoff=0, borderpad=1,
             font=dict(family=SERIF, size=size, color="black"))
    if bg:
        d["bgcolor"] = bg
    annots.append(d)


def leader(i, x0, y0, x1, y1, width=1):
    xn, yn, _, _ = names(i)
    shapes.append(dict(type="line", xref=xn, yref=yn, x0=x0, y0=y0, x1=x1, y1=y1,
                       line=dict(color="black", width=width)))


def paper_text(px, py, text, size, family=SERIF, angle=0):
    annots.append(dict(x=px / W, y=1 - py / H, xref="paper", yref="paper", text=text,
                       showarrow=False, textangle=angle, xanchor="center",
                       yanchor="middle", font=dict(family=family, size=size, color="black")))


# ---------- Panel 1: R134a ----------
setup_axes(1, r134a_xticks, r134a_xlabels, r134a_yticks, r134a_ylabels,
           "#7f7f7f", 1, "#9a9a9a", 1, "solid", 2, False, 14)
for ys, c in [(r134a_p5, "#6B6BA8"), (r134a_p4, "#008080"), (r134a_p3, "#339966"),
              (r134a_p2, "#FF00FF"), (r134a_p1, "#000080")]:
    add_series(1, r134a_t, ys, c, 1, "lines+markers", "cross-thin", 5, thin=True)
for txt, lx, ly, hx, hy in [
        ("p<sub>1</sub>", 62.2, 2.113, 63.37, 2.085),
        ("p<sub>2</sub>", 65.86, 2.080, 67.14, 2.028),
        ("p<sub>3</sub>", 69.33, 2.012, 70.35, 1.974),
        ("p<sub>4</sub>", 72.88, 1.990, 74.28, 1.926),
        ("p<sub>5</sub>", 76.35, 1.951, 77.63, 1.889)]:
    pointer(1, lx, ly, hx, hy, txt, 13, head=0)
leader(1, 65.25, 1.871, 65.25, 1.839)
leader(1, 65.25, 1.839, 68.57, 1.839)
leader(1, 68.57, 1.839, 68.57, 1.870)
label(1, 67.25, 1.854, "= 3,30 [s]", 13)

# ---------- Panel 2: R404A ----------
setup_axes(2, r404a_xticks, r404a_xlabels, r404a_yticks, r404a_ylabels,
           "#8c8c8c", 1, "#a8a8a8", 2, "solid", 2, False, 14)
for ys, c, sym, ms, thin in [
        (r404a_p5, "#008080", "cross-thin", 4, True),
        (r404a_p4, "#993366", "x-thin", 4, True),
        (r404a_p3, "#339966", "triangle-up", 4, False),
        (r404a_p2, "#FF0000", "square", 3, False),
        (r404a_p1, "#333399", "diamond", 4, False)]:
    add_series(2, r404a_t, ys, c, 1, "lines+markers", sym, ms, thin)
for txt, lx, ly, hx, hy in [
        ("p<sub>1</sub>", 102.5, 1.410, 101.35, 1.345),
        ("p<sub>2</sub>", 105.85, 1.342, 104.42, 1.258),
        ("p<sub>3</sub>", 109.4, 1.268, 107.75, 1.208),
        ("p<sub>4</sub>", 112.9, 1.222, 111.28, 1.164),
        ("p<sub>5</sub>", 117.9, 1.029, 116.24, 1.077)]:
    pointer(2, lx, ly, hx, hy, txt, 13, head=0, bg="white")
leader(2, 110.07, 1.082, 110.07, 1.052)
leader(2, 110.07, 1.052, 113.63, 1.052)
leader(2, 113.63, 1.052, 113.63, 1.082)
label(2, 111.86, 1.0713, "<i>Δτ</i> = 3,30  [s]", 13)

# ---------- Panel 3: R1234yf ----------
setup_axes(3, r1234yf_xticks, r1234yf_xlabels, r1234yf_yticks, r1234yf_ylabels,
           "black", 1, "black", 1, "solid", 1.5, True, 12)
for ys, c, w in [(r1234yf_p4, "#800080", 6), (r1234yf_p3, "#00FFFF", 6),
                 (r1234yf_p2, "#FF0000", 6), (r1234yf_p1, "#000080", 6),
                 (r1234yf_p5, "#993366", 9)]:
    add_series(3, r1234yf_t, ys, c, w)
for txt, lx, ly, hx, hy in [
        ("p<sub>1</sub>", 0.378, 1.2141, 0.163, 1.2044),
        ("p<sub>2</sub>", 0.780, 1.2143, 0.581, 1.2042),
        ("p<sub>3</sub>", 1.207, 1.2141, 0.762, 1.1940),
        ("p<sub>4</sub>", 1.650, 1.2143, 1.293, 1.1950),
        ("p<sub>5</sub>", 2.146, 1.2143, 1.757, 1.1927)]:
    pointer(3, lx, ly, hx, hy, txt, 13)

# ---------- Panel 4: R507 ----------
setup_axes(4, r507_xticks, r507_xlabels, r507_yticks, r507_ylabels,
           "black", 1, "black", 1, "dash", 1.5, True, 12)
for ys, c, w in [(r507_p2, "#FF00FF", 10), (r507_p1, "#FF0000", 10),
                 (r507_p3, "#00FFFF", 9), (r507_p4, "#800080", 14),
                 (r507_p5, "#800000", 12)]:
    add_series(4, r507_t, ys, c, w)
for txt, lx, ly, hx, hy in [
        ("p<sub>1</sub>", 2.00, 1.9684, 0.178, 1.9010),
        ("p<sub>2</sub>", 4.02, 1.9684, 2.780, 1.9256),
        ("p<sub>3</sub>", 6.00, 1.9684, 4.060, 1.8982),
        ("p<sub>4</sub>", 8.03, 1.9684, 6.730, 1.9167),
        ("p<sub>5</sub>", 10.04, 1.9684, 8.120, 1.8897)]:
    pointer(4, lx, ly, hx, hy, txt, 14)

# ---------- Panel 5: R1234ze ----------
setup_axes(5, r1234ze_xticks, r1234ze_xlabels, r1234ze_yticks, r1234ze_ylabels,
           "black", 1, "black", 1, "dot", 1.5, True, 13)
add_series(5, r1234ze_t, r1234ze_p1, "#FF0000", 1, "lines+markers", "triangle-up", 6)
add_series(5, r1234ze_t, r1234ze_p2, "#FF00FF", 1, "lines+markers", "square", 5)
add_series(5, r1234ze_t, r1234ze_p3, "#33DDDD", 1, "lines+markers", "x-thin", 6, thin=True)
add_series(5, r1234ze_t, r1234ze_p4, "#800000", 1, "lines+markers", "circle", 5)
leader(5, 1.437, 1.9980, 1.437, 2.0015, 2.5)
leader(5, 2.433, 1.9961, 2.433, 2.0015, 2.5)
annots.append(dict(x=2.41, y=2.0012, ax=1.46, ay=2.0012, xref="x5", yref="y5",
                   axref="x5", ayref="y5", text="", showarrow=True, arrowhead=2,
                   arrowsize=1, arrowwidth=1.2, arrowcolor="black",
                   arrowside="end+start", startarrowhead=2, startarrowsize=1))
label(5, 1.954, 1.9987, "Δt = 1.0 [s]", 15)

# ---------- Panel 6: R448A ----------
setup_axes(6, r448a_xticks, r448a_xlabels, r448a_yticks, r448a_ylabels,
           "black", 1, "black", 1, "dash", 1.5, True, 12)
for ys, c, w in [(r448a_p1, "#0000CC", 10), (r448a_p3, "#FF00FF", 10),
                 (r448a_p2, "#FF0000", 10), (r448a_p4, "#008000", 11),
                 (r448a_p5, "#800000", 11)]:
    add_series(6, r448a_t, ys, c, w)
for txt, lx, ly, hx, hy in [
        ("p<sub>1</sub>", 2.15, 2.0588, 1.100, 1.9927),
        ("p<sub>2</sub>", 3.55, 2.0588, 1.745, 1.9526),
        ("p<sub>3</sub>", 4.45, 2.0580, 3.945, 2.0213),
        ("p<sub>4</sub>", 6.61, 2.0580, 4.917, 1.9320),
        ("p<sub>5</sub>", 8.48, 2.0580, 7.420, 1.9747)]:
    pointer(6, lx, ly, hx, hy, txt, 14, bg="white")

# ---------- titles & axis titles ----------
for txt, px, py in [("R134a", 284, 19), ("R404A", 884, 19), ("R1234yf", 284, 451),
                    ("R507", 884, 451), ("R1234ze", 284, 882), ("R448A", 884, 882)]:
    paper_text(px, py, txt, 23, SANS)

paper_text(22, 218, "p<sub>s</sub>  [MPa]", 16, angle=-90)
paper_text(617, 232, "p<sub>s</sub> [MPa]", 16, angle=-90)
paper_text(18, 652, "<b>p<sub>s</sub> [MPa]</b>", 14, angle=-90)
paper_text(612, 652, "ṁ [kg/h]", 14, angle=-90)
paper_text(19, 1090, "p<sub>s</sub>  MPa", 15, angle=-90)
paper_text(617, 1105, "p<sub>s</sub>  [kg/h]", 14, angle=-90)

paper_text(521, 416, "<i>t</i>  [s]", 15)
paper_text(1117, 415, "<i>t</i>  [s]", 15)
paper_text(522, 847, "<b>t [s]</b>", 14)
paper_text(1117, 857, "t [s]", 14)
paper_text(532, 1275, "t [s]", 15)
paper_text(1125, 1274, "t [s]", 15)

fig.update_layout(
    width=W, height=H, autosize=False,
    margin=dict(l=0, r=0, t=0, b=0, pad=0, autoexpand=False),
    paper_bgcolor="white", plot_bgcolor="white",
    showlegend=False,
    annotations=annots, shapes=shapes,
    **axes_layout,
)

fig.write_html("out.html", config={"displayModeBar": False},
               post_script="document.body.style.margin='0';")
